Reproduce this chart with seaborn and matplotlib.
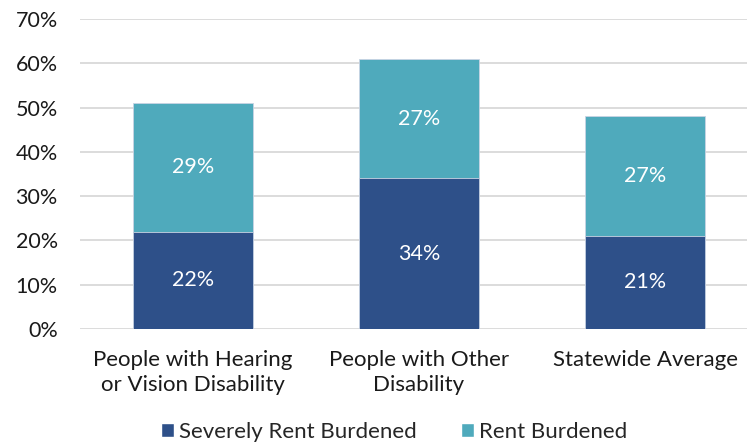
import matplotlib
matplotlib.use("Agg")
import matplotlib.pyplot as plt
from matplotlib.patches import Patch
import seaborn as sns
import pandas as pd

categories = ["People with Hearing\nor Vision Disability",
              "People with Other\nDisability",
              "Statewide Average"]
severely_rent_burdened = [22, 34, 21]
rent_burdened = [29, 27, 27]
y_ticks = [0, 10, 20, 30, 40, 50, 60, 70]

dark_blue = "#2E5089"
teal = "#4FAABC"

sns.set_theme(style="white")
plt.rcParams["font.family"] = ["Lato", "DejaVu Sans"]

df = pd.DataFrame({
    "category": categories,
    "severe": severely_rent_burdened,
    "burdened": rent_burdened,
})
df["total"] = df["severe"] + df["burdened"]

fig = plt.figure(figsize=(7.47, 4.47), dpi=100)
ax = fig.add_axes([80 / 747, 118 / 447, 667 / 747, 310 / 447])

bar_w = 0.531
sns.barplot(data=df, x="category", y="total", color=teal, width=bar_w,
            saturation=1, ax=ax, zorder=3, edgecolor="#C9D3E3", linewidth=0.6)
sns.barplot(data=df, x="category", y="severe", color=dark_blue, width=bar_w,
            saturation=1, ax=ax, zorder=4, edgecolor="#C9D3E3", linewidth=0.6)

for i, (s, b) in enumerate(zip(df["severe"], df["burdened"])):
    ax.text(i, s / 2, f"{s}%", ha="center", va="center", color="white",
            fontsize=15.5, zorder=5)
    ax.text(i, s + b / 2, f"{b}%", ha="center", va="center", color="white",
            fontsize=15.5, zorder=5)

ax.set_xlim(-0.5, 2.451)
ax.set_ylim(0, 70)
ax.set_yticks(y_ticks)
ax.set_yticklabels([f"{t}%" for t in y_ticks], fontsize=15.5, color="#1a1a1a")
ax.set_xticks(range(len(categories)))
ax.set_xticklabels(categories, fontsize=16, color="#1a1a1a", linespacing=1.3)
ax.tick_params(axis="x", pad=15, length=0)
ax.tick_params(axis="y", length=0, pad=16)
ax.set_xlabel("")
ax.set_ylabel("")
ax.yaxis.grid(True, color="#D9D9D9", linewidth=1.3, zorder=0)
ax.set_axisbelow(True)
for sp in ax.spines.values():
    sp.set_visible(False)

handles = [Patch(facecolor=dark_blue, label="Severely Rent Burdened"),
           Patch(facecolor=teal, label="Rent Burdened")]
fig.legend(handles=handles, loc="center", bbox_to_anchor=(394 / 747, 1 - 432 / 447),
           ncol=2, frameon=False, fontsize=16, handlelength=0.6,
           handleheight=0.6, handletextpad=0.2, columnspacing=2.0)

fig.savefig("out.png", dpi=100)
